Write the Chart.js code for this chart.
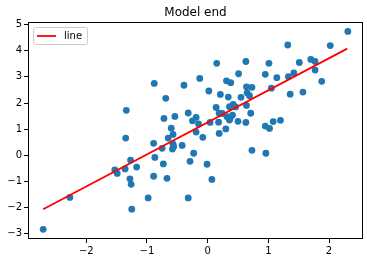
<!DOCTYPE html>
<html lang="en">
<head>
  <meta charset="UTF-8">
  <title>Model end</title>
  <script src="https://cdn.jsdelivr.net/npm/chart.js"></script>
  <style>
    html, body { margin: 0; padding: 0; background: #fff; }
    #wrap { width: 367px; height: 261px; }
  </style>
</head>
<body>
  <div id="wrap"><canvas id="chart" width="367" height="261"></canvas></div>

  <script>
    // scatter points
    const pointsX = [-2.71, -2.27, -1.34, -1.35, -1.53, -1.49, -1.36, -1.27, -1.28, -1.26,
      -1.25, -1.17, -0.98, -0.88, -0.89, -0.87, -0.89, -0.75, -0.72, -0.73,
      -0.69, -0.67, -0.65, -0.60, -0.57, -0.58, -0.57, -0.54, -0.42, -0.39,
      -0.32, -0.32, -0.29, -0.23, -0.25, -0.19, -0.19, -0.15, -0.13, -0.08,
      -0.01, 0.02, 0.04, 0.07, 0.14, 0.15, 0.18, 0.19, 0.19, 0.21,
      0.30, 0.31, 0.34, 0.32, 0.36, 0.38, 0.36, 0.41, 0.42, 0.46,
      0.50, 0.51, 0.55, 0.63, 0.63, 0.64, 0.64, 0.65, 0.71, 0.69,
      0.73, 0.73, 0.95, 0.95, 0.96, 1.01, 1.02, 1.05, 1.08, 1.14,
      1.20, 1.32, 1.33, 1.36, 1.42, 1.51, 1.57, 1.70, 1.77, 1.77,
      1.88, 2.02, 2.31, 0.37, 0.24, -0.56];
    const pointsY = [-2.83, -1.61, 1.72, 0.66, -0.56, -0.69, -0.52, -0.18, -0.90, -1.11,
      -2.06, -0.45, -1.63, 2.75, 0.46, -0.08, -0.80, 0.27, 1.41, -0.33,
      2.18, -0.88, 0.66, 1.04, 0.43, 0.24, 0.80, 1.49, 0.38, 2.68,
      1.62, -1.63, -0.23, 0.08, 1.32, 1.45, 0.89, 1.20, 2.94, 0.69,
      -0.34, 2.46, 1.26, -0.92, 1.83, 3.52, 1.27, 1.61, 0.84, 2.33,
      1.01, 2.85, 2.23, 1.48, 1.35, 2.78, 1.86, 1.54, 1.95, 1.85,
      1.30, 3.12, 2.22, 1.26, 3.59, 1.91, 2.62, 2.39, 1.61, 2.28,
      2.60, 0.19, 3.10, 1.12, 0.08, 3.52, 1.03, 2.57, 1.29, 2.97,
      1.34, 4.22, 3.01, 2.34, 3.15, 3.55, 2.42, 3.67, 3.59, 3.26,
      2.83, 4.20, 4.74, 1.42, 1.60, 0.33];

    // fitted line end points
    const lineX = [-2.71, 2.30];
    const lineY = [-2.06, 4.08];

    const xTicks = [-2, -1, 0, 1, 2];
    const yTicks = [-3, -2, -1, 0, 1, 2, 3, 4, 5];

    const FONT = 'DejaVu Sans';
    const minus = v => String(v).replace('-', '\u2212');

    // matplotlib style frame, title over the axes, legend inside
    const framePlugin = {
      id: 'frame',
      afterDatasetsDraw(chart) {
        const { ctx, chartArea: a } = chart;
        ctx.save();
        ctx.strokeStyle = '#000';
        ctx.lineWidth = 1;
        ctx.strokeRect(Math.round(a.left) + 0.5, Math.round(a.top) + 0.5,
          Math.round(a.right - a.left) - 1, Math.round(a.bottom - a.top) - 1);

        ctx.fillStyle = '#000';
        ctx.font = '12px "' + FONT + '"';
        ctx.textAlign = 'center';
        ctx.textBaseline = 'alphabetic';
        ctx.fillText('Model end', (a.left + a.right) / 2, a.top - 6);

        // legend box
        const bx = a.left + 5, by = a.top + 5, bw = 54, bh = 17;
        ctx.fillStyle = 'rgba(255,255,255,0.8)';
        ctx.strokeStyle = '#cccccc';
        ctx.beginPath();
        ctx.roundRect(bx + 0.5, by + 0.5, bw, bh, 2);
        ctx.fill();
        ctx.stroke();
        ctx.strokeStyle = 'red';
        ctx.lineWidth = 1.8;
        ctx.beginPath();
        ctx.moveTo(bx + 4, by + 9);
        ctx.lineTo(bx + 23, by + 9);
        ctx.stroke();
        ctx.fillStyle = '#000';
        ctx.font = '10px "' + FONT + '"';
        ctx.textAlign = 'left';
        ctx.textBaseline = 'middle';
        ctx.fillText('line', bx + 31, by + 9);
        ctx.restore();
      }
    };

    const scatterData = pointsX.map((x, i) => ({ x: x, y: pointsY[i] }));
    const lineData = lineX.map((x, i) => ({ x: x, y: lineY[i] }));

    new Chart(document.getElementById('chart'), {
      type: 'scatter',
      data: {
        datasets: [
          {
            type: 'line',
            label: 'line',
            data: lineData,
            borderColor: 'red',
            borderWidth: 1.8,
            pointRadius: 0,
            fill: false,
            order: 0
          },
          {
            label: 'points',
            data: scatterData,
            backgroundColor: '#1f77b4',
            borderWidth: 0,
            pointRadius: 3.4,
            order: 1
          }
        ]
      },
      options: {
        responsive: false,
        animation: false,
        layout: { padding: { left: 0, right: 3, top: 22, bottom: 0 } },
        plugins: {
          legend: { display: false },
          tooltip: { enabled: false },
          title: { display: false }
        },
        scales: {
          x: {
            type: 'linear',
            min: -2.96,
            max: 2.56,
            afterBuildTicks: s => { s.ticks = xTicks.map(v => ({ value: v })); },
            afterFit: s => { s.height = 22; },
            ticks: {
              color: '#000',
              font: { family: FONT, size: 10 },
              padding: 2,
              maxRotation: 0,
              callback: v => minus(v)
            },
            grid: { display: true, drawOnChartArea: false, drawTicks: true, tickLength: 4, color: '#000' },
            border: { display: false }
          },
          y: {
            type: 'linear',
            min: -3.2,
            max: 5.1,
            afterBuildTicks: s => { s.ticks = yTicks.map(v => ({ value: v })); },
            afterFit: s => { s.width = 28; },
            ticks: {
              color: '#000',
              font: { family: FONT, size: 10 },
              padding: 2,
              callback: v => minus(v)
            },
            grid: { display: true, drawOnChartArea: false, drawTicks: true, tickLength: 4, color: '#000' },
            border: { display: false }
          }
        }
      },
      plugins: [framePlugin]
    });
  </script>
</body>
</html>
